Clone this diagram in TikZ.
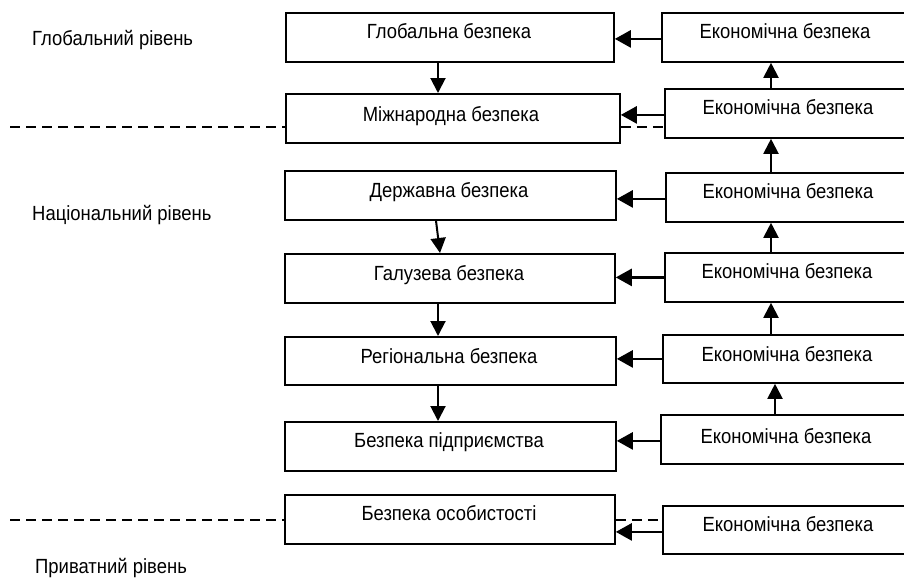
\documentclass[tikz,border=0pt]{standalone}
\usepackage{fontspec}
\setmainfont{Liberation Sans}[FakeStretch=0.9]
\usetikzlibrary{arrows.meta}
\begin{document}
\begin{tikzpicture}[x=1pt,y=-1pt,
  box/.style={draw, line width=1.8pt, anchor=north west, inner sep=0pt, minimum height=49pt},
  rbox/.style={box, minimum width=300pt},
  txt/.style={anchor=base, inner sep=0pt, font=\fontsize{20.5}{23}\selectfont},
  lbl/.style={anchor=base west, inner sep=0pt, font=\fontsize{20.5}{23}\selectfont},
  arr/.style={line width=2.6pt, -{Triangle[length=16pt,width=17pt]}},
  varr/.style={line width=2pt, -{Triangle[length=15pt,width=15pt]}},
  dashline/.style={line width=1.6pt, dash pattern=on 10pt off 6pt}]
\useasboundingbox (0,0) rectangle (904,579);
\fill[white] (0,0) rectangle (904,579);
\begin{scope}
\clip (0,0) rectangle (904,579);
% centre boxes
\node[box, minimum width=328pt] (l1) at (285,12) {};
\node[box, minimum width=334pt] (l2) at (285,93) {};
\node[box, minimum width=331pt] (l3) at (284,170) {};
\node[box, minimum width=330pt] (l4) at (284,253) {};
\node[box, minimum width=331pt, minimum height=48pt] (l5) at (284,336) {};
\node[box, minimum width=331pt] (l6) at (284,421) {};
\node[box, minimum width=330pt] (l7) at (284,494) {};
% right boxes
\node[rbox] (r1) at (661,12) {};
\node[rbox] (r2) at (664,88) {};
\node[rbox] (r3) at (665,172) {};
\node[rbox] (r4) at (664,252) {};
\node[rbox, minimum height=48pt] (r5) at (662,334) {};
\node[rbox] (r6) at (660,414) {};
\node[rbox, minimum height=48pt] (r7) at (662,505) {};
\end{scope}
% texts
\node[txt] (t1) at (449,38.5) {Глобальна безпека};
\node[txt] (t2) at (451,121.5) {Міжнародна безпека};
\node[txt] (t3) at (449,197.5) {Державна безпека};
\node[txt] (t4) at (449,280.5) {Галузева безпека};
\node[txt] (t5) at (449,363.5) {Регіональна безпека};
\node[txt] (t6) at (449,447.5) {Безпека підприємства};
\node[txt] (t7) at (449,520.5) {Безпека особистості};
\node[txt] (e1) at (785,38.5) {Економічна безпека};
\node[txt] (e2) at (788,114.5) {Економічна безпека};
\node[txt] (e3) at (788,198.5) {Економічна безпека};
\node[txt] (e4) at (787,278.5) {Економічна безпека};
\node[txt] (e5) at (787,361.5) {Економічна безпека};
\node[txt] (e6) at (786,443.5) {Економічна безпека};
\node[txt] (e7) at (788,531.5) {Економічна безпека};
% level labels
\node[lbl] (g) at (32,45) {Глобальний рівень};
\node[lbl] (n) at (32,220) {Національний рівень};
\node[lbl] (p) at (35,573) {Приватний рівень};
% horizontal arrows
\draw[arr] ([yshift=-1.5pt]r1.west) -- ([yshift=-1.5pt]r1.west -| l1.east);
\draw[arr] ([yshift=-1.5pt]r2.west) -- ([yshift=-1.5pt]r2.west -| l2.east);
\draw[arr] ([yshift=-1.5pt]r3.west) -- ([yshift=-1.5pt]r3.west -| l3.east);
\draw[arr] (r4.west) -- (r4.west -| l4.east);
\draw[arr] (r5.west) -- (r5.west -| l5.east);
\draw[arr] ([yshift=-1.5pt]r6.west) -- ([yshift=-1.5pt]r6.west -| l6.east);
\draw[arr] ([yshift=-2pt]r7.west) -- ([yshift=-2pt]r7.west -| l7.east);
% vertical up arrows
\coordinate (vx) at (771,0);
\coordinate (vx2) at (775,0);
\draw[varr] (r2.north -| vx) -- (r1.south -| vx);
\draw[varr] (r3.north -| vx) -- (r2.south -| vx);
\draw[varr] (r4.north -| vx) -- (r3.south -| vx);
\draw[varr] (r5.north -| vx) -- (r4.south -| vx);
\draw[varr] (r6.north -| vx2) -- (r5.south -| vx2);
% down arrows
\coordinate (cx) at (438,0);
\coordinate (cxa) at (436,0);
\coordinate (cxb) at (440,0);
\draw[varr] (l1.south -| cx) -- (l2.north -| cx);
\draw[varr] (l3.south -| cxa) -- (l4.north -| cxb);
\draw[varr] (l4.south -| cx) -- (l5.north -| cx);
\draw[varr] (l5.south -| cx) -- (l6.north -| cx);
% dashed level lines
\coordinate (d1) at (10,127);
\coordinate (d2) at (10,520);
\draw[dashline] (d1) -- (d1 -| l2.west);
\draw[dashline] (l2.east |- d1) -- (r2.west |- d1);
\draw[dashline] (d2) -- (d2 -| l7.west);
\draw[dashline] (l7.east |- d2) -- (r7.west |- d2);
\end{tikzpicture}
\end{document}
